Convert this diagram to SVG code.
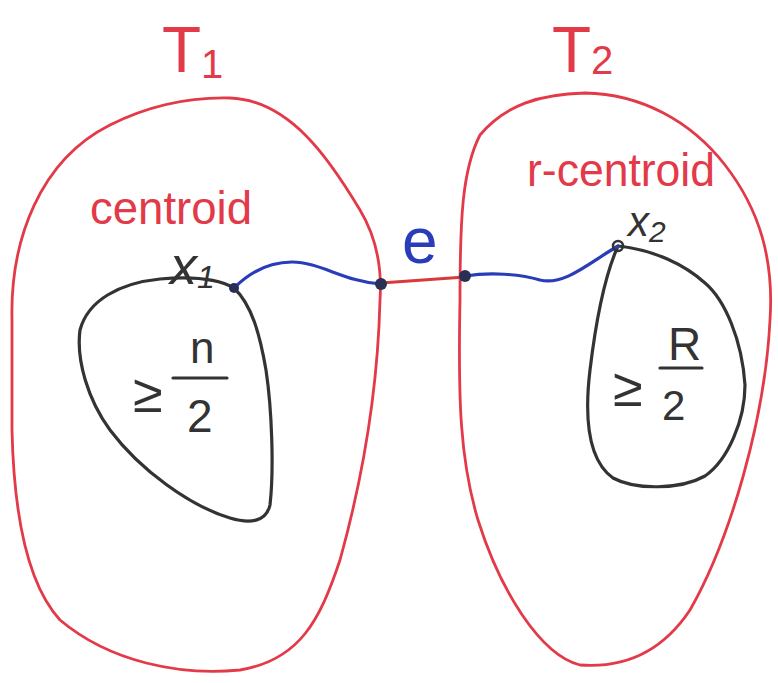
<svg xmlns="http://www.w3.org/2000/svg" width="778" height="683" viewBox="0 0 778 683">
<style>
.red{fill:none;stroke:#e23a48;stroke-width:2.8;stroke-linecap:round;stroke-linejoin:round}
.blk{fill:none;stroke:#333;stroke-width:3.2;stroke-linecap:round;stroke-linejoin:round}
.blu{fill:none;stroke:#2b3cb8;stroke-width:3.2;stroke-linecap:round}
.tr{fill:#e23a48;font-family:"Liberation Sans",sans-serif}
.tk{fill:#333;font-family:"Liberation Sans",sans-serif}
.tb{fill:#2b3cb8;font-family:"Liberation Sans",sans-serif}
.dot{fill:#2a2f55}
</style>
<rect width="778" height="683" fill="#fff"/>
<g id="T1">
<path class="red" d="M12,320 C10,240 40,160 110,125 C150,105 190,97 230,98 C290,100 330,160 360,210 C378,240 382,270 380,300 C378,380 365,470 340,560 C320,620 300,660 240,670 C180,676 110,662 60,620 C28,585 14,520 12,430 Z"/>
<text class="tr" x="162" y="72" font-size="64">T<tspan font-size="40" dy="6">1</tspan></text>
<text class="tr" x="90" y="224" font-size="46" textLength="162" lengthAdjust="spacingAndGlyphs">centroid</text>
</g>
<g id="T2">
<path class="red" d="M460,300 C460,220 462,170 480,135 C505,105 540,94 585,93 C640,94 690,120 725,165 C760,210 774,260 770,320 C765,420 730,540 690,610 C660,655 620,668 580,665 C540,655 500,590 478,520 C460,460 458,400 460,300 Z"/>
<text class="tr" x="552" y="72" font-size="64">T<tspan font-size="40" dy="2">2</tspan></text>
<text class="tr" x="527" y="186" font-size="46" textLength="188" lengthAdjust="spacingAndGlyphs">r-centroid</text>
</g>
<g id="A1">
<path class="blk" d="M234,288 C252,305 260,335 266,370 C272,410 274,470 270,505 C266,522 250,524 230,518 C190,506 140,470 110,430 C88,400 76,360 80,330 C88,300 120,283 160,279 C195,276 220,280 234,288 Z"/>
<text class="tk" x="170" y="284" font-size="54" font-style="italic">x<tspan font-size="32" dy="4">1</tspan></text>
<text class="tk" x="133" y="412" font-size="54">≥</text>
<text class="tk" x="190" y="363" font-size="44">n</text>
<line class="blk" x1="173" y1="378" x2="227" y2="378"/>
<text class="tk" x="187" y="432" font-size="46">2</text>
</g>
<g id="A2">
<path class="blk" d="M618,246 C605,275 596,320 590,370 C584,420 588,460 613,478 C635,490 680,490 705,476 C728,460 745,420 745,385 C742,340 725,300 705,283 C685,265 655,250 618,246 Z"/>
<text class="tk" x="628" y="236" font-size="42" font-style="italic">x<tspan font-size="30" dy="6">2</tspan></text>
<text class="tk" x="613" y="406" font-size="54">≥</text>
<text class="tk" x="668" y="360" font-size="46">R</text>
<line class="blk" x1="660" y1="368" x2="702" y2="368"/>
<text class="tk" x="662" y="420" font-size="42">2</text>
</g>
<g id="connectors">
<path class="blu" d="M234,288 C250,272 270,262 292,262 C320,262 345,282 381,284"/>
<line x1="381" y1="283" x2="465" y2="277" stroke="#d83a3a" stroke-width="3.2"/>
<path class="blu" d="M465,276 C490,272 520,274 540,280 C565,286 590,262 618,246"/>
<text class="tb" x="402" y="263" font-size="64">e</text>
<circle class="dot" cx="234" cy="288" r="5"/>
<circle class="dot" cx="381" cy="284" r="6"/>
<circle class="dot" cx="465" cy="276" r="6"/>
<circle cx="618" cy="246" r="5" fill="none" stroke="#333" stroke-width="2.5"/>
</g>
</svg>
